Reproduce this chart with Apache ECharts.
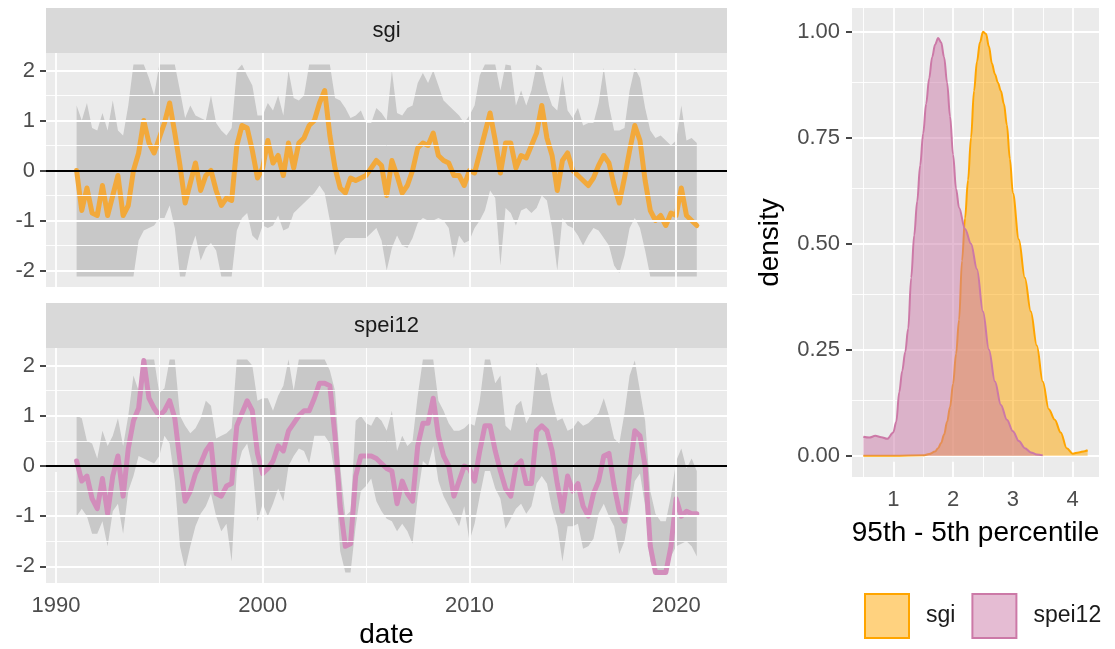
<!DOCTYPE html>
<html>
<head>
<meta charset="utf-8">
<script src="https://cdn.jsdelivr.net/npm/echarts@6/dist/echarts.min.js"></script>
<style>
  html, body { margin: 0; padding: 0; background: #ffffff; }
  #chart { width: 1115px; height: 649px; }
</style>
</head>
<body>
<div id="chart"></div>
<script>
// ---- time series: quarterly values, 1991.00 .. 2021.00 ----
const startYear = 1991;
const stepYear = 0.25;

const sgiLine = [
  0.0, -0.8, -0.35, -0.85,   -0.9, -0.3, -0.9, -0.5,    -0.1, -0.9, -0.7, 0.0,
  0.35, 1.0, 0.55, 0.35,     0.65, 0.95, 1.35, 0.75,    0.1, -0.65, -0.25, 0.15,
  -0.4, -0.1, 0.0, -0.4,     -0.7, -0.55, -0.6, 0.5,    0.9, 0.85, 0.4, -0.15,
  0.05, 0.6, 0.15, 0.3,      -0.1, 0.55, 0.05, 0.55,    0.65, 0.9, 1.0, 1.35,
  1.6, 0.7, 0.05, -0.35,     -0.45, -0.15, -0.2, -0.15, -0.1, 0.05, 0.2, 0.1,
  -0.5, 0.2, -0.1, -0.45,    -0.3, 0.0, 0.45, 0.55,     0.5, 0.75, 0.3, 0.2,
  0.15, -0.1, -0.1, -0.3,    0.0, -0.05, 0.35, 0.75,    1.15, 0.6, -0.05, 0.55,
  0.55, 0.05, 0.3, 0.25,     0.5, 0.75, 1.3, 0.65,      0.3, -0.4, 0.2, 0.35,
  0.0, -0.1, -0.2, -0.3,     -0.15, 0.1, 0.3, 0.15,     -0.3, -0.65, -0.15, 0.4,
  0.9, 0.6, -0.2, -0.8,      -1.0, -0.9, -1.1, -0.85,   -0.9, -0.35, -0.9, -1.0,
  -1.1
];
const sgiUpper = [
  1.3, 1.0, 1.35, 0.85,      0.8, 1.15, 0.8, 1.4,       0.8, 0.7, 1.3, 2.12,
  2.12, 2.12, 1.85, 1.5,     2.12, 2.12, 2.12, 2.12,    1.6, 1.05, 1.3, 1.1,
  1.05, 1.0, 1.5, 0.95,      0.8, 0.7, 0.85, 2.0,       2.12, 1.9, 1.7, 1.1,
  1.1, 1.35, 1.2, 1.5,       1.1, 2.0, 1.45, 1.4,       1.5, 2.12, 2.12, 2.12,
  2.12, 2.12, 1.45, 1.4,     1.25, 1.05, 1.1, 1.2,      0.95, 0.95, 1.25, 1.15,
  1.0, 2.0, 1.15, 1.1,       1.25, 1.3, 1.75, 1.95,     1.75, 2.0, 1.7, 1.4,
  1.3, 1.2, 1.1, 0.95,       1.1, 1.3, 1.9, 2.12,       2.12, 2.12, 1.6, 2.12,
  2.1, 1.3, 1.6, 1.3,        1.6, 2.12, 2.05, 1.6,      1.3, 1.2, 1.9, 1.2,
  1.05, 1.25, 0.9, 0.95,     0.95, 1.35, 2.05, 1.3,     0.8, 0.8, 0.85, 1.6,
  2.05, 1.85, 1.25, 0.8,     0.65, 0.7, 0.6, 0.5,       0.6, 1.3, 0.6, 0.65,
  0.55
];
const sgiLower = [
  -2.12, -2.12, -2.12, -2.12, -2.12, -2.12, -2.12, -2.12, -2.12, -2.12, -2.12, -2.12,
  -1.4, -1.2, -1.15, -1.1,   -0.95, -0.95, -0.7, -1.15, -2.12, -2.12, -1.6, -1.3,
  -1.8, -1.55, -1.45, -1.6,  -2.12, -2.12, -2.12, -1.2, -0.95, -0.85, -1.3, -1.4,
  -1.1, -1.15, -1.1, -0.9,   -1.2, -1.15, -0.85, -0.75, -0.65, -0.55, -0.45, -0.3,
  -0.45, -1.0, -1.7, -1.45,  -1.35, -1.35, -1.35, -1.35, -1.35, -1.25, -1.15, -1.4,
  -2.0, -1.55, -1.3, -1.5,   -1.55, -1.35, -1.05, -0.95, -1.0, -1.0, -0.95, -1.0,
  -1.15, -1.75, -1.3, -1.45, -1.4, -1.15, -1.0, -0.8,  -0.4, -0.55, -1.9, -0.75,
  -0.85, -1.1, -0.8, -0.75,  -0.85, -0.75, -0.5, -0.6,  -1.15, -2.0, -0.95, -1.1,
  -1.15, -1.3, -1.5, -1.3,   -1.15, -1.2, -1.35, -1.5,  -1.9, -2.05, -1.7, -1.15,
  -0.95, -1.15, -1.6, -2.12, -2.12, -2.12, -2.12, -2.12, -2.12, -2.12, -2.12, -2.12,
  -2.12
];

const speiLine = [
  0.1, -0.3, -0.2, -0.65,    -0.85, -0.25, -0.95, -0.2, 0.2, -0.6, 0.35, 0.9,
  1.15, 2.1, 1.35, 1.15,     1.0, 1.1, 1.3, 0.95,       0.1, -0.7, -0.5, -0.15,
  0.05, 0.3, 0.45, -0.55,    -0.6, -0.4, -0.35, 0.8,    1.05, 1.3, 1.1, 0.25,
  -0.15, -0.05, 0.1, 0.4,    0.3, 0.7, 0.85, 1.0,       1.1, 1.1, 1.35, 1.65,
  1.65, 1.6, 0.6, -0.8,      -1.6, -1.55, -0.2, 0.2,    0.2, 0.2, 0.15, 0.05,
  -0.05, -0.1, -0.75, -0.3,  -0.55, -0.7, 0.4, 0.85,    0.85, 1.35, 0.6, 0.2,
  0.0, -0.6, -0.3, 0.0,      -0.05, -0.3, 0.3, 0.8,     0.8, 0.3, -0.1, -0.45,
  -0.6, 0.0, 0.1, -0.35,     -0.35, 0.7, 0.8, 0.7,      0.3, -0.35, -0.9, -0.2,
  -0.5, -0.35, -0.8, -1.0,   -0.55, -0.3, 0.2, 0.25,    -0.4, -0.9, -1.1, -0.1,
  0.7, 0.6, 0.0, -1.6,       -2.12, -2.12, -2.12, -1.6, -0.65, -1.0, -0.9, -0.95,
  -0.95
];
const speiUpper = [
  1.0, 0.95, 0.5, 0.45,      0.15, 0.7, 0.4, 0.6,       0.95, 0.4, 1.0, 1.8,
  1.5, 2.12, 2.12, 2.12,     1.45, 1.55, 2.12, 2.12,    1.0, 0.8, 0.65, 0.75,
  0.95, 1.3, 1.2, 0.55,      0.6, 0.65, 0.75, 2.12,     2.12, 2.12, 2.0, 1.3,
  1.35, 1.35, 1.1, 1.4,      1.6, 2.12, 1.5, 2.12,      2.12, 2.12, 2.12, 2.12,
  2.12, 1.9, 1.5, 0.0,       -1.0, -0.9, 0.9, 1.0,      0.85, 0.8, 1.0, 0.9,
  0.7, 1.1, 0.3, 0.6,        0.4, 0.5, 1.4, 2.12,       2.12, 2.12, 1.3, 1.1,
  0.85, 0.7, 0.7, 0.75,      0.85, 0.8, 1.3, 2.12,      2.12, 1.65, 1.8, 0.8,
  0.7, 1.2, 1.3, 0.85,       1.05, 2.05, 1.8, 1.85,     1.3, 0.9, 0.95, 0.7,
  0.75, 0.9, 0.8, 0.85,      0.95, 1.05, 1.35, 1.0,     0.55, 0.45, 1.05, 1.8,
  2.1, 1.5, 0.9, -0.5,       -0.95, -1.1, -1.1, -0.6,   0.1, 0.35, -0.05, 0.15,
  -0.1
];
const speiLower = [
  -1.0, -0.85, -1.0, -1.35,  -1.35, -1.1, -1.6, -0.9,   -0.75, -1.35, -0.5, -0.2,
  0.2, 0.15, 0.1, 0.05,      0.2, 0.6, 0.45, -0.3,      -1.6, -2.05, -1.6, -1.2,
  -0.95, -0.8, -0.55, -1.0,  -1.3, -1.15, -1.9, -0.1,   0.3, 0.45, 0.0, -1.1,
  -0.75, -1.0, -0.75, -0.45, -0.7, 0.0, 0.2, 0.35,      0.3, 0.05, 0.6, 0.6,
  0.6, 0.45, -0.2, -1.7,     -2.12, -2.12, -1.2, -0.5,  -0.4, -0.25, -0.7, -0.9,
  -1.05, -1.1, -1.3, -1.15,  -1.3, -1.55, -0.6, 0.1,    0.0, 0.4, -0.3, -0.6,
  -0.8, -1.0, -1.2, -0.8,    -1.5, -1.15, -0.6, -0.1,   -0.1, -0.45, -0.65, -1.25,
  -1.05, -0.85, -0.75, -0.95, -0.8, -0.35, -0.2, -0.35, -0.85, -1.2, -1.9, -1.2,
  -1.2, -1.15, -1.65, -1.6,  -1.45, -0.95, -0.75, -1.0, -1.2, -1.75, -1.5, -0.9,
  -0.3, -0.15, -0.8, -1.9,   -2.12, -2.12, -2.12, -1.8, -1.6, -1.55, -1.5, -1.6,
  -1.8
];

// ---- density of the 95th - 5th percentile spread ----
const sgiDensX = [0.5, 1.0, 1.5, 1.6, 1.7, 1.75, 1.8, 1.85, 1.9, 1.95, 2.0, 2.05, 2.1, 2.15,
  2.2, 2.25, 2.3, 2.35, 2.4, 2.45, 2.5, 2.55, 2.6, 2.65, 2.7, 2.75, 2.8, 2.85, 2.9, 2.95,
  3.0, 3.1, 3.2, 3.3, 3.4, 3.5, 3.6, 3.7, 3.8, 3.9, 4.0, 4.1, 4.2, 4.25];
const sgiDensY = [0, 0, 0.001, 0.004, 0.01, 0.018, 0.03, 0.05, 0.08, 0.115, 0.17, 0.24, 0.32, 0.46,
  0.56, 0.65, 0.75, 0.86, 0.93, 0.975, 1.0, 0.995, 0.965, 0.925, 0.9, 0.88, 0.86, 0.83, 0.78, 0.7,
  0.62, 0.51, 0.42, 0.34, 0.26, 0.175, 0.11, 0.085, 0.055, 0.018, 0.005, 0.008, 0.011, 0.013];
const speiDensX = [0.5, 0.6, 0.7, 0.8, 0.9, 1.0, 1.05, 1.1, 1.15, 1.2, 1.25, 1.3, 1.35, 1.4, 1.45,
  1.5, 1.55, 1.6, 1.65, 1.7, 1.75, 1.8, 1.85, 1.9, 1.95, 2.0, 2.05, 2.1, 2.2, 2.3, 2.4, 2.5,
  2.6, 2.7, 2.8, 2.9, 3.0, 3.1, 3.2, 3.3, 3.4, 3.5];
const speiDensY = [0.045, 0.043, 0.047, 0.044, 0.04, 0.055, 0.08, 0.15, 0.2, 0.245, 0.3, 0.42, 0.52,
  0.6, 0.685, 0.76, 0.83, 0.89, 0.94, 0.97, 0.985, 0.975, 0.94, 0.88, 0.8, 0.71, 0.63, 0.585,
  0.535, 0.5, 0.44, 0.34, 0.25, 0.175, 0.12, 0.085, 0.058, 0.035, 0.018, 0.008, 0.003, 0.001];

// ---- axis ticks ----
const yearTicks = [1990, 2000, 2010, 2020];
const yearMinor = [1995, 2005, 2015];
const indexTicks = [-2, -1, 0, 1, 2];
const indexMinor = [-1.5, -0.5, 0.5, 1.5];
const spreadTicks = [1, 2, 3, 4];
const spreadMinor = [0.5, 1.5, 2.5, 3.5];
const densTicks = [0, 0.25, 0.5, 0.75, 1];
const densMinor = [0.125, 0.375, 0.625, 0.875];

const FONT = '"Liberation Sans", Arial, Helvetica, sans-serif';
const PANEL_BG = '#EBEBEB';
const RIBBON = '#C8C8C8';
const SGI_LINE = '#F2A93B';
const SPEI_LINE = '#D28DBB';
const SGI_FILL = 'rgba(255,165,0,0.5)';
const SPEI_FILL = 'rgba(204,121,167,0.5)';
const SGI_EDGE = '#FFA500';
const SPEI_EDGE = '#CC79A7';

const dates = sgiLine.map((_, i) => startYear + i * stepYear);

function gridLines(xi, yi, xMajor, xMinor, yMajor, yMinor) {
  const data = [];
  xMinor.forEach(v => data.push({ xAxis: v, lineStyle: { width: 0.9 } }));
  yMinor.forEach(v => data.push({ yAxis: v, lineStyle: { width: 0.9 } }));
  xMajor.forEach(v => data.push({ xAxis: v, lineStyle: { width: 1.8 } }));
  yMajor.forEach(v => data.push({ yAxis: v, lineStyle: { width: 1.8 } }));
  return {
    type: 'line', xAxisIndex: xi, yAxisIndex: yi, data: [], silent: true, z: 1,
    markLine: {
      silent: true, symbol: 'none', animation: false, label: { show: false },
      lineStyle: { color: '#FFFFFF', type: 'solid', opacity: 1 },
      emphasis: { disabled: true },
      data: data
    }
  };
}

function ribbon(xi, yi, lower, upper) {
  const rows = dates.map((t, i) => [t, lower[i], upper[i]]);
  return {
    type: 'custom', xAxisIndex: xi, yAxisIndex: yi, data: rows, silent: true, z: 2,
    encode: { x: 0, y: [1, 2] },
    renderItem: function (params, api) {
      if (params.dataIndex !== 0) return null;
      const top = rows.map(r => api.coord([r[0], r[2]]));
      const bottom = rows.map(r => api.coord([r[0], r[1]])).reverse();
      return { type: 'polygon', shape: { points: top.concat(bottom) }, style: { fill: RIBBON } };
    }
  };
}

function zeroLine(xi, yi) {
  return {
    type: 'line', xAxisIndex: xi, yAxisIndex: yi, data: [], silent: true, z: 3,
    markLine: {
      silent: true, symbol: 'none', animation: false, label: { show: false },
      lineStyle: { color: '#000000', type: 'solid', width: 2 },
      data: [{ yAxis: 0 }]
    }
  };
}

function indexLine(xi, yi, values, color) {
  return {
    type: 'line', xAxisIndex: xi, yAxisIndex: yi, z: 4, silent: true,
    data: dates.map((t, i) => [t, values[i]]),
    showSymbol: false, symbol: 'none',
    lineStyle: { color: color, width: 5, join: 'round', cap: 'round' }
  };
}

function densitySeries(name, xs, ys, stroke, fill, z) {
  return {
    name: name, type: 'line', xAxisIndex: 2, yAxisIndex: 2, z: z, silent: true,
    data: xs.map((x, i) => [x, ys[i]]),
    smooth: 0.35, smoothMonotone: 'x',
    showSymbol: false, symbol: 'none',
    itemStyle: { color: fill, borderColor: stroke },
    lineStyle: { color: stroke, width: 2 },
    areaStyle: { color: fill, opacity: 1 }
  };
}

const tickLabel = { fontSize: 22, color: '#4D4D4D', fontFamily: FONT };
const tickMark = { length: 6, lineStyle: { color: '#333333', width: 1.8 } };

function yearAxis(gridIndex, showLabels) {
  return {
    type: 'value', gridIndex: gridIndex, min: 1989.52, max: 2022.46,
    axisLine: { show: false },
    splitLine: { show: false },
    axisTick: Object.assign({ show: showLabels, customValues: yearTicks }, tickMark),
    axisLabel: Object.assign({ show: showLabels, customValues: yearTicks, margin: 12, formatter: v => String(v) }, tickLabel),
    name: showLabels ? 'date' : '',
    nameLocation: 'middle', nameGap: 38, nameMoveOverlap: false,
    nameTextStyle: { fontSize: 28, color: '#000000', fontFamily: FONT }
  };
}

function indexAxis(gridIndex) {
  return {
    type: 'value', gridIndex: gridIndex, min: -2.33, max: 2.35,
    axisLine: { show: false },
    splitLine: { show: false },
    axisTick: Object.assign({ show: true, customValues: indexTicks }, tickMark),
    axisLabel: Object.assign({ customValues: indexTicks, margin: 11, formatter: v => String(v) }, tickLabel)
  };
}

const chart = echarts.init(document.getElementById('chart'), null, { renderer: 'canvas' });

chart.setOption({
  animation: false,
  backgroundColor: '#FFFFFF',
  textStyle: { fontFamily: FONT },
  grid: [
    { left: 46, top: 53, width: 681, height: 234, show: true, backgroundColor: PANEL_BG, borderWidth: 0, containLabel: false, outerBoundsMode: 'none' },
    { left: 46, top: 348, width: 681, height: 235, show: true, backgroundColor: PANEL_BG, borderWidth: 0, containLabel: false, outerBoundsMode: 'none' },
    { left: 852, top: 8, width: 247, height: 469, show: true, backgroundColor: PANEL_BG, borderWidth: 0, containLabel: false, outerBoundsMode: 'none' }
  ],
  xAxis: [
    yearAxis(0, false),
    yearAxis(1, true),
    {
      type: 'value', gridIndex: 2, min: 0.31, max: 4.44,
      axisLine: { show: false }, splitLine: { show: false },
      axisTick: Object.assign({ show: true, customValues: spreadTicks }, tickMark),
      axisLabel: Object.assign({ customValues: spreadTicks, margin: 12, formatter: v => String(v) }, tickLabel),
      name: '95th - 5th percentile', nameLocation: 'middle', nameGap: 42, nameMoveOverlap: false,
      nameTextStyle: { fontSize: 28, color: '#000000', fontFamily: FONT }
    }
  ],
  yAxis: [
    indexAxis(0),
    indexAxis(1),
    {
      type: 'value', gridIndex: 2, min: -0.05, max: 1.056,
      axisLine: { show: false }, splitLine: { show: false },
      axisTick: Object.assign({ show: true, customValues: densTicks }, tickMark),
      axisLabel: Object.assign({ customValues: densTicks, margin: 12, formatter: v => v.toFixed(2) }, tickLabel),
      name: 'density', nameLocation: 'middle', nameGap: 68, nameRotate: 90, nameMoveOverlap: false,
      nameTextStyle: { fontSize: 28, color: '#000000', fontFamily: FONT }
    }
  ],
  legend: {
    left: 864, top: 593, orient: 'horizontal', padding: 0,
    itemWidth: 44, itemHeight: 44, itemGap: 16, icon: 'rect', selectedMode: false,
    textStyle: { fontSize: 23, color: '#1A1A1A', fontFamily: FONT, padding: [0, 0, 0, 12] },
    data: [
      { name: 'sgi', itemStyle: { color: SGI_FILL, borderColor: SGI_EDGE, borderWidth: 2 } },
      { name: 'spei12', itemStyle: { color: SPEI_FILL, borderColor: SPEI_EDGE, borderWidth: 2 } }
    ]
  },
  graphic: [
    { type: 'rect', left: 46, top: 8, shape: { width: 681, height: 45 }, style: { fill: '#D9D9D9' }, silent: true },
    { type: 'text', x: 386.5, y: 30.5, style: { text: 'sgi', fontSize: 22, fill: '#1A1A1A', fontFamily: FONT, align: 'center', verticalAlign: 'middle' }, silent: true },
    { type: 'rect', left: 46, top: 303, shape: { width: 681, height: 45 }, style: { fill: '#D9D9D9' }, silent: true },
    { type: 'text', x: 386.5, y: 325.5, style: { text: 'spei12', fontSize: 22, fill: '#1A1A1A', fontFamily: FONT, align: 'center', verticalAlign: 'middle' }, silent: true }
  ],
  series: [
    gridLines(0, 0, yearTicks, yearMinor, indexTicks, indexMinor),
    gridLines(1, 1, yearTicks, yearMinor, indexTicks, indexMinor),
    gridLines(2, 2, spreadTicks, spreadMinor, densTicks, densMinor),
    ribbon(0, 0, sgiLower, sgiUpper),
    ribbon(1, 1, speiLower, speiUpper),
    zeroLine(0, 0),
    zeroLine(1, 1),
    indexLine(0, 0, sgiLine, SGI_LINE),
    indexLine(1, 1, speiLine, SPEI_LINE),
    densitySeries('sgi', sgiDensX, sgiDensY, SGI_EDGE, SGI_FILL, 5),
    densitySeries('spei12', speiDensX, speiDensY, SPEI_EDGE, SPEI_FILL, 6)
  ]
});
</script>
</body>
</html>
